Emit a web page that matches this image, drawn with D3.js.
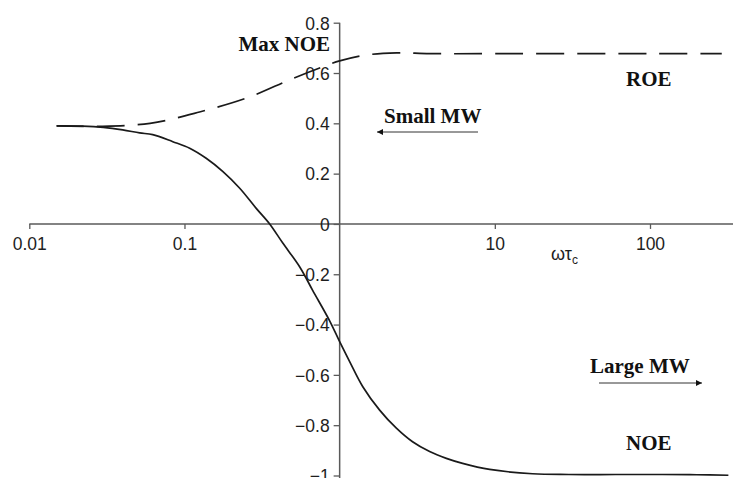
<!DOCTYPE html>
<html>
<head>
<meta charset="utf-8">
<script src="https://cdn.jsdelivr.net/npm/d3@7"></script>
<style>
  body { margin: 0; background: #fff; }
  svg { display: block; }
</style>
</head>
<body>
<div id="viz"></div>
<script>
var width = 735,
    height = 478;

// omega*tau_c values
var noeX = [0.015, 0.022, 0.03, 0.04, 0.0514, 0.0624, 0.0841, 0.108, 0.138, 0.177, 0.227, 0.29, 0.354, 0.43, 0.552, 0.67, 0.862, 1.0, 1.16, 1.41, 1.81, 2.32, 2.95, 3.8, 4.87, 6.2, 9.26, 17.5, 30, 60, 120, 200, 320];
var noeY = [0.39, 0.389, 0.384, 0.374, 0.362, 0.355, 0.327, 0.301, 0.261, 0.208, 0.142, 0.062, 0.0, -0.076, -0.17, -0.264, -0.385, -0.468, -0.547, -0.647, -0.74, -0.812, -0.866, -0.905, -0.932, -0.952, -0.976, -0.993, -0.996, -0.996, -0.996, -0.997, -0.999];

var roeX = [0.015, 0.028, 0.06, 0.125, 0.263, 0.476, 0.743, 1.0, 1.5, 2.33, 3.8, 10, 100, 290];
var roeY = [0.39, 0.388, 0.40, 0.445, 0.505, 0.573, 0.62, 0.648, 0.672, 0.68, 0.677, 0.677, 0.677, 0.677];

var xTicks = [0.01, 0.1, 10, 100];
var xTickLabels = ['0.01', '0.1', '10', '100'];
var yTicks = [-1, -0.8, -0.6, -0.4, -0.2, 0, 0.2, 0.4, 0.6, 0.8];

var noeData = noeX.map(function (d, i) { return { x: d, y: noeY[i] }; });
var roeData = roeX.map(function (d, i) { return { x: d, y: roeY[i] }; });

var x = d3.scaleLog().domain([0.01, 100]).range([29.3, 650]);
var y = d3.scaleLinear().domain([-1, 0.8]).range([475.5, 22.7]);

var svg = d3.select('#viz').append('svg')
  .attr('width', width)
  .attr('height', height);

svg.append('rect')
  .attr('width', width)
  .attr('height', height)
  .attr('fill', '#fff');

var axisColor = '#5a5a5a';
var textColor = '#1e1e1e';
var sansFont = '"Liberation Sans", Arial, Helvetica, sans-serif';
var serifFont = '"Liberation Serif", "Times New Roman", serif';

// x axis at y = 0
var xAxis = svg.append('g')
  .attr('transform', 'translate(0,' + y(0) + ')')
  .call(d3.axisBottom(x)
    .tickValues(xTicks)
    .tickFormat(function (d, i) { return xTickLabels[i]; })
    .tickSize(5)
    .tickPadding(9));

xAxis.select('.domain').remove();
xAxis.append('line')
  .attr('x1', x(0.01))
  .attr('x2', width - 2)
  .attr('stroke', axisColor)
  .attr('stroke-width', 1.5);

// y axis at omega*tau_c = 1
var yAxis = svg.append('g')
  .attr('transform', 'translate(' + x(1) + ',0)')
  .call(d3.axisLeft(y)
    .tickValues(yTicks)
    .tickFormat(function (d) { return d === 0 ? '0' : d3.format('.1f')(d).replace('-', '\u2212').replace('\u22121.0', '\u22121'); })
    .tickSize(6)
    .tickPadding(4));

yAxis.select('.domain').remove();
yAxis.append('line')
  .attr('y1', y(0.8))
  .attr('y2', height)
  .attr('stroke', axisColor)
  .attr('stroke-width', 1.5);

[xAxis, yAxis].forEach(function (g) {
  g.selectAll('.tick line').attr('stroke', axisColor).attr('stroke-width', 1.3);
  g.selectAll('.tick text')
    .attr('fill', textColor)
    .style('font-family', sansFont)
    .style('font-size', '17.5px');
});
yAxis.selectAll('.tick text').attr('dy', '0.36em');

var line = d3.line()
  .x(function (d) { return x(d.x); })
  .y(function (d) { return y(d.y); })
  .curve(d3.curveCatmullRom.alpha(0.5));

svg.append('path')
  .datum(noeData)
  .attr('d', line)
  .attr('fill', 'none')
  .attr('stroke', '#1a1a1a')
  .attr('stroke-width', 1.7);

svg.append('path')
  .datum(roeData)
  .attr('d', line)
  .attr('fill', 'none')
  .attr('stroke', '#1a1a1a')
  .attr('stroke-width', 1.7)
  .attr('stroke-dasharray', '28,13')
  .attr('stroke-dashoffset', -40);

// axis title
var xt = svg.append('text')
  .attr('x', 551)
  .attr('y', 260)
  .attr('fill', textColor)
  .style('font-family', sansFont)
  .style('font-size', '18px');
xt.append('tspan').text('\u03c9\u03c4');
xt.append('tspan').attr('dy', 4).style('font-size', '12px').text('c');

// annotations
var labels = [
  { t: 'Max NOE', x: 330, y: 51, anchor: 'end' },
  { t: 'ROE', x: 626, y: 86, anchor: 'start' },
  { t: 'Small MW', x: 384, y: 123, anchor: 'start' },
  { t: 'Large MW', x: 590, y: 373, anchor: 'start' },
  { t: 'NOE', x: 626, y: 450, anchor: 'start' }
];

svg.selectAll('.anno')
  .data(labels)
  .enter().append('text')
  .attr('class', 'anno')
  .attr('x', function (d) { return d.x; })
  .attr('y', function (d) { return d.y; })
  .attr('text-anchor', function (d) { return d.anchor; })
  .attr('fill', '#111')
  .style('font-family', serifFont)
  .style('font-weight', 'bold')
  .style('font-size', '21px')
  .text(function (d) { return d.t; });

var defs = svg.append('defs');
defs.append('marker')
  .attr('id', 'head')
  .attr('viewBox', '0 0 10 10')
  .attr('refX', 10)
  .attr('refY', 5)
  .attr('markerUnits', 'userSpaceOnUse')
  .attr('markerWidth', 8)
  .attr('markerHeight', 6)
  .attr('orient', 'auto')
  .append('path')
  .attr('d', 'M0,0L10,5L0,10Z')
  .attr('fill', '#111');

var arrows = [
  { x1: 478, x2: 377, y: 132 },
  { x1: 599, x2: 702, y: 383 }
];

svg.selectAll('.arrow')
  .data(arrows)
  .enter().append('line')
  .attr('class', 'arrow')
  .attr('x1', function (d) { return d.x1; })
  .attr('x2', function (d) { return d.x2; })
  .attr('y1', function (d) { return d.y; })
  .attr('y2', function (d) { return d.y; })
  .attr('stroke', '#333')
  .attr('stroke-width', 1)
  .attr('marker-end', 'url(#head)');
</script>
</body>
</html>
